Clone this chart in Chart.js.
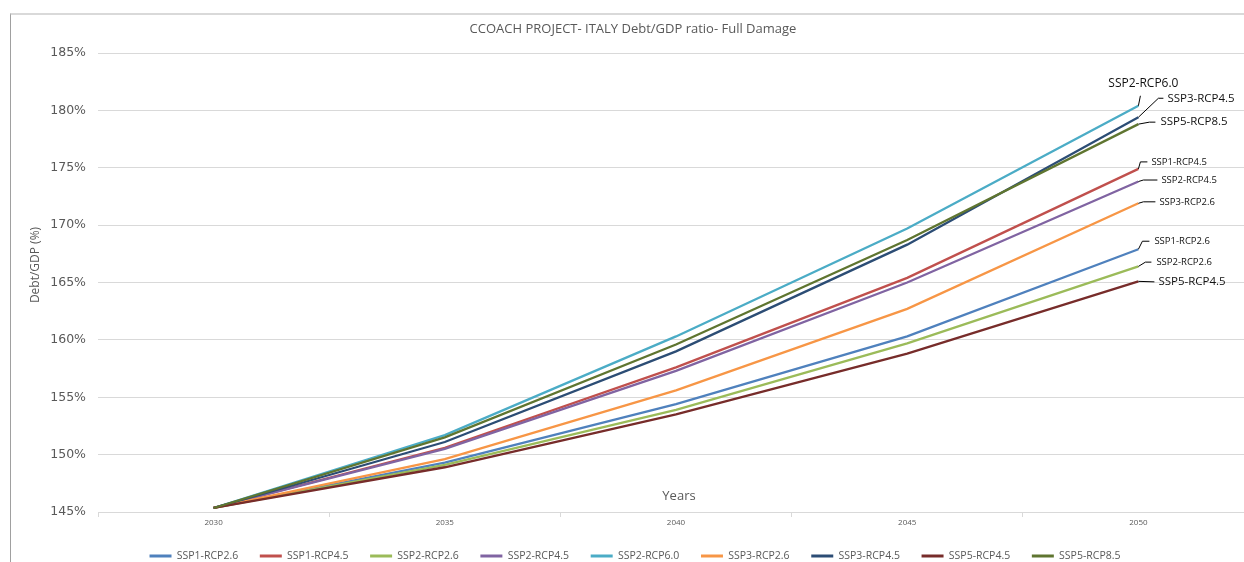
<!DOCTYPE html>
<html><head><meta charset="utf-8">
<script src="https://cdn.jsdelivr.net/npm/chart.js@4.4.1/dist/chart.umd.min.js"></script>
<style>
html,body{margin:0;padding:0;background:#fff;overflow:hidden;width:1244px;height:562px;}
#frame{position:absolute;left:10px;top:13px;width:1300px;height:600px;border-left:1px solid #a0a0a0;border-top:2px solid #d9d9d9;box-sizing:border-box;}
#c{position:absolute;left:0;top:0;}
</style></head><body>
<div id="frame"></div>
<canvas id="c" width="1254" height="562"></canvas>
<script>
// ---- data ----
const categories = ['2030','2035','2040','2045','2050'];
const seriesNames = ['SSP1-RCP2.6','SSP1-RCP4.5','SSP2-RCP2.6','SSP2-RCP4.5','SSP2-RCP6.0','SSP3-RCP2.6','SSP3-RCP4.5','SSP5-RCP4.5','SSP5-RCP8.5'];
const ssp1Rcp26 = [145.35, 149.3, 154.4, 160.3, 167.9];
const ssp1Rcp45 = [145.35, 150.6, 157.6, 165.4, 174.9];
const ssp2Rcp26 = [145.35, 149.1, 153.9, 159.7, 166.4];
const ssp2Rcp45 = [145.35, 150.5, 157.3, 165.0, 173.8];
const ssp2Rcp60 = [145.35, 151.7, 160.3, 169.7, 180.4];
const ssp3Rcp26 = [145.35, 149.6, 155.6, 162.7, 171.9];
const ssp3Rcp45 = [145.35, 151.1, 159.0, 168.3, 179.4];
const ssp5Rcp45 = [145.35, 148.9, 153.5, 158.8, 165.1];
const ssp5Rcp85 = [145.35, 151.5, 159.6, 168.7, 178.8];
const yMin = 145, yMax = 185, yStep = 5;
const chartTitle = 'CCOACH PROJECT- ITALY Debt/GDP ratio- Full Damage';
const xTitle = 'Years';
const yTitle = 'Debt/GDP (%)';

// ---- styles ----
const seriesColors = ['#4F81BD','#C0504D','#9BBB59','#8064A2','#4BACC6','#F79646','#2C4D75','#772C2A','#5F7530'];
const endLabelStyle = {
  'SSP2-RCP6.0': {size:12,   leader:[[2,-10]],               text:[5,-22], align:'center'},
  'SSP3-RCP4.5': {size:11.5, leader:[[20,-19],[25,-19]],     text:[29,-19]},
  'SSP5-RCP8.5': {size:11.5, leader:[[11,-2],[17,-2]],       text:[22,-2]},
  'SSP1-RCP4.5': {size:9.5,  leader:[[2,-7],[9,-7]],         text:[13,-7]},
  'SSP2-RCP4.5': {size:9.5,  leader:[[5,-1.5],[19,-1.5]],    text:[23,-1.5]},
  'SSP3-RCP2.6': {size:9.5,  leader:[[5,-1.5],[17,-1.5]],    text:[21,-1.5]},
  'SSP1-RCP2.6': {size:9.5,  leader:[[4,-8],[11,-8]],        text:[16,-8]},
  'SSP2-RCP2.6': {size:9.5,  leader:[[7,-4.3],[13,-4.3]],    text:[18,-4.3]},
  'SSP5-RCP4.5': {size:11.5, leader:[[16,0.5]],              text:[20,0.5]}
};
const LEGEND_DX = 8, LEGEND_DY = -0.9;

const values = [ssp1Rcp26, ssp1Rcp45, ssp2Rcp26, ssp2Rcp45, ssp2Rcp60, ssp3Rcp26, ssp3Rcp45, ssp5Rcp45, ssp5Rcp85];
const datasets = seriesNames.map((n,i)=>({
  label:n, data:values[i], borderColor:seriesColors[i], backgroundColor:seriesColors[i],
  borderWidth:2.3, pointRadius:0, tension:0, fill:false, order:seriesNames.length - i
}));

const annot = {
  id:'annot',
  afterLayout(chart){
    const lg = chart.legend;
    if (lg){ lg.left += LEGEND_DX; lg.right += LEGEND_DX; lg.top += LEGEND_DY; lg.bottom = chart.height; }
  },
  afterDraw(chart){
    const ctx = chart.ctx, ca = chart.chartArea;
    ctx.save();
    ctx.fillStyle = '#595959';
    ctx.textAlign = 'center'; ctx.textBaseline = 'middle';
    ctx.font = '13px "Open Sans"';
    ctx.fillText(chartTitle, 633, 29);
    ctx.fillText(xTitle, (ca.left+ca.right)/2 + 3, ca.bottom - 16);
    ctx.save();
    ctx.translate(36, 265);
    ctx.rotate(-Math.PI/2);
    ctx.font = '12px "Open Sans"';
    ctx.fillText(yTitle, 0, 0);
    ctx.restore();
    // end labels with leader lines
    chart.data.datasets.forEach((ds,i)=>{
      const st = endLabelStyle[ds.label]; if(!st) return;
      const meta = chart.getDatasetMeta(i);
      const p = meta.data[meta.data.length-1];
      ctx.strokeStyle = '#000'; ctx.lineWidth = 1;
      ctx.beginPath(); ctx.moveTo(p.x, p.y);
      st.leader.forEach(([dx,dy])=>ctx.lineTo(p.x+dx, p.y+dy));
      ctx.stroke();
      ctx.fillStyle = '#111';
      ctx.font = st.size + 'px "Open Sans"';
      ctx.textAlign = st.align || 'left';
      ctx.textBaseline = 'middle';
      ctx.fillText(ds.label, p.x + st.text[0], p.y + st.text[1]);
    });
    ctx.restore();
  }
};

new Chart(document.getElementById('c'), {
  type:'line',
  data:{ labels:categories, datasets },
  options:{
    responsive:false, animation:false,
    layout:{ padding:{ top:53, left:0, right:0, bottom:0 } },
    plugins:{
      title:{display:false}, tooltip:{enabled:false},
      legend:{
        position:'bottom', maxHeight:32,
        labels:{
          font:{family:'"Open Sans"', size:10.5}, color:'#595959',
          boxWidth:22, boxHeight:3, padding:21.65,
          sort:(a,b)=>a.datasetIndex-b.datasetIndex,
          generateLabels:(chart)=>Chart.defaults.plugins.legend.labels.generateLabels(chart)
            .map(l=>({...l, lineWidth:0, fillStyle:l.strokeStyle}))
        }
      }
    },
    scales:{
      x:{
        offset:true,
        grid:{display:true, drawOnChartArea:false, tickLength:5, color:'#d9d9d9', offset:true},
        border:{display:true, color:'#d9d9d9'},
        ticks:{font:{family:'"Open Sans"', size:8}, color:'#595959', padding:1, maxRotation:0},
        afterFit:(s)=>{ s.height = 18; }
      },
      y:{
        min:yMin, max:yMax,
        grid:{color:'#d9d9d9', tickLength:0},
        border:{display:false},
        ticks:{stepSize:yStep, padding:12, font:{family:'"DejaVu Sans"', size:12.5}, color:'#595959',
          callback:(v)=>v+'%'},
        afterFit:(s)=>{ s.width = 98; }
      }
    }
  },
  plugins:[annot]
});
</script>
</body></html>
